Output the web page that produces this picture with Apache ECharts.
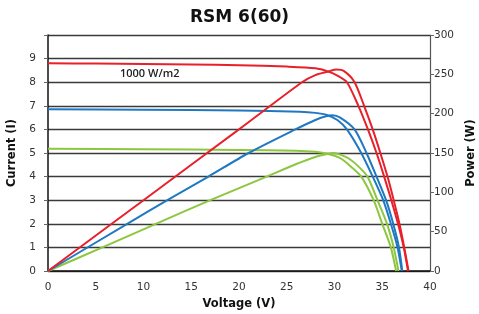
<!DOCTYPE html>
<html><head><meta charset="utf-8">
<script src="https://cdn.jsdelivr.net/npm/echarts@6/dist/echarts.min.js"></script>
<style>html,body{margin:0;padding:0;background:#fff}#c{width:479px;height:314px}</style>
</head><body><div id="c"></div>
<script>
// Voltage (V) -> Current (A) and Power (W) curves
const redIV   = [[0,8.80],[5,8.79],[10,8.77],[15,8.75],[20,8.72],[25,8.66],[28,8.59],[29.35,8.45],[30.3,8.28],[31.3,8.0],[32.5,7.0],[33.5,6.0],[34.4,5.0],[35.2,4.0],[35.95,3.0],[36.65,2.0],[37.25,1.0],[37.7,0]];
const redP    = [[0,0],[10,90],[20,180],[26.6,240],[28,249],[29.35,253.5],[30.2,256],[31,254],[32.1,240],[33.1,210],[34.0,180],[34.8,150],[35.55,120],[36.2,90],[36.8,60],[37.3,30],[37.75,0]];
const blueIV  = [[0,6.85],[10,6.83],[20,6.80],[26.4,6.75],[28,6.70],[29.2,6.61],[30.3,6.4],[31.3,6.0],[32.8,5.0],[34.0,4.0],[35.1,3.0],[35.9,2.0],[36.6,1.0],[37.05,0]];
const blueP   = [[0,0],[8.3,60],[12.5,90],[16.8,120],[21,150],[25.9,180],[28,192],[29.2,197],[29.8,198],[30.6,195],[32.1,180],[33.35,150],[34.4,120],[35.4,90],[36.15,60],[36.75,30],[37.1,0]];
const greenIV = [[0,5.18],[10,5.16],[20,5.13],[26,5.10],[28,5.05],[29.35,4.96],[30.5,4.8],[31.5,4.5],[32.8,4.0],[34.1,3.0],[35.0,2.0],[35.9,1.0],[36.45,0]];
const greenP  = [[0,0],[5.7,30],[11.3,60],[17,90],[22.9,120],[26,136],[28,145],[29.35,149],[29.9,150],[30.6,148],[31.5,143],[32.5,133],[33.45,120],[34.5,90],[35.5,60],[36.2,30],[36.7,0]];
const xTicks = [0,5,10,15,20,25,30,35,40];
const titleText = 'RSM 6(60)';
const irradianceLabel = '1000 W/m2';

const FONT = 'DejaVu Sans';
const RED = '#e8202a', BLUE = '#1f78c1', GREEN = '#8dc63f';
function line(data, color, yIdx){
  return {type:'line', data, yAxisIndex:yIdx, showSymbol:false, smooth:0.25,
    lineStyle:{color, width:2}, itemStyle:{color}, animation:false, z:3};
}
const chart = echarts.init(document.getElementById('c'));
chart.setOption({
  animation:false,
  textStyle:{fontFamily:FONT},
  title:{text:titleText, left:'center', top:4, textStyle:{fontFamily:FONT, fontWeight:'bold', fontSize:17, color:'#111'}},
  grid:{left:48, right:49, top:35, bottom:43, containLabel:false, outerBoundsMode:'none'},
  xAxis:{type:'value', min:xTicks[0], max:xTicks[xTicks.length-1], interval:5,
    name:'Voltage (V)', nameLocation:'middle', nameGap:26,
    nameTextStyle:{fontFamily:FONT, fontWeight:'bold', fontSize:11.5, color:'#111'},
    axisLine:{lineStyle:{color:'#111', width:1.5}}, axisTick:{show:false},
    axisLabel:{fontFamily:FONT, fontSize:10.5, color:'#333', margin:11},
    splitLine:{show:false}},
  yAxis:[
    {type:'value', min:0, max:10, interval:1, position:'left',
     name:'Current (I)', nameLocation:'middle', nameGap:26, nameRotate:90,
     nameTextStyle:{fontFamily:FONT, fontWeight:'bold', fontSize:11.5, color:'#111'},
     axisLine:{show:true, lineStyle:{color:'#111', width:1.5}},
     axisTick:{show:true, length:4, lineStyle:{color:'#666'}},
     axisLabel:{fontFamily:FONT, fontSize:10.5, color:'#333', margin:12,
       formatter:v=> v===10 ? '' : String(v)},
     splitLine:{show:true, lineStyle:{color:'#3a3a3a', width:1.3}}},
    {type:'value', min:0, max:300, interval:50, position:'right',
     name:'Power (W)', nameLocation:'middle', nameGap:33, nameRotate:90,
     nameTextStyle:{fontFamily:FONT, fontWeight:'bold', fontSize:11.5, color:'#111'},
     axisLine:{show:true, lineStyle:{color:'#555', width:1.2}},
     axisTick:{show:true, length:4, lineStyle:{color:'#666'}},
     axisLabel:{fontFamily:FONT, fontSize:10.5, color:'#333', margin:4},
     splitLine:{show:false}}
  ],
  graphic:[{type:'text', left:120, top:68, style:{text:irradianceLabel, font:'600 11px "Open Sans"', fill:'#222'}}],
  series:[
    line(greenIV, GREEN, 0), line(greenP, GREEN, 1),
    line(blueIV, BLUE, 0), line(blueP, BLUE, 1),
    line(redIV, RED, 0), line(redP, RED, 1)
  ]
});
</script></body></html>
